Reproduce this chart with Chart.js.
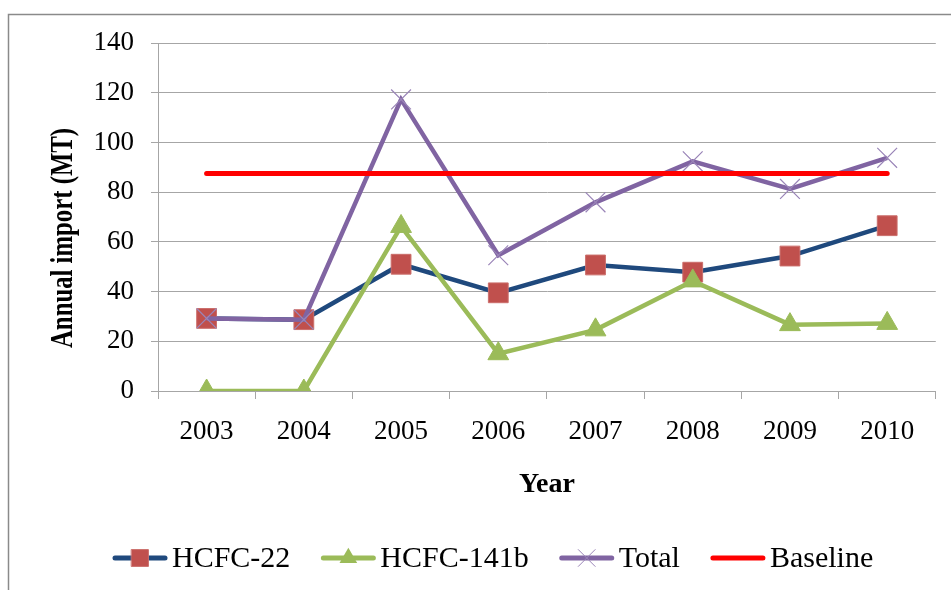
<!DOCTYPE html>
<html>
<head>
<meta charset="utf-8">
<script src="https://cdn.jsdelivr.net/npm/chart.js@4.4.1/dist/chart.umd.min.js"></script>
<style>
  html, body { margin: 0; padding: 0; background: #ffffff; }
  #wrap { width: 951px; height: 590px; position: relative; }
</style>
</head>
<body>
<div id="wrap"><canvas id="c" width="951" height="590"></canvas></div>
<script>
// Annual HCFC imports (metric tonnes)
const years = ['2003', '2004', '2005', '2006', '2007', '2008', '2009', '2010'];
const hcfc22 = [29.2, 28.7, 51.0, 39.5, 50.7, 47.8, 54.3, 66.5];
const hcfc141b = [0, 0, 66.2, 15.0, 24.6, 44.3, 26.7, 27.2];
const total = [29.2, 28.7, 117.3, 54.6, 75.9, 92.4, 81.3, 93.8];
const baseline = [87.5, 87.5, 87.5, 87.5, 87.5, 87.5, 87.5, 87.5];
const yTicks = [0, 20, 40, 60, 80, 100, 120, 140];
const yTitle = 'Annual import (MT)';

const SERIF = "'Liberation Serif', 'Times New Roman', serif";
const GRID = '#A6A6A6';

// white page with a thin frame on the top and left edges
const framePlugin = {
  id: 'frame',
  beforeDraw(chart) {
    const ctx = chart.ctx;
    ctx.save();
    ctx.fillStyle = '#ffffff';
    ctx.fillRect(0, 0, chart.width, chart.height);
    ctx.strokeStyle = '#8A8A8A';
    ctx.lineWidth = 1.5;
    ctx.beginPath();
    ctx.moveTo(8.5, chart.height);
    ctx.lineTo(8.5, 14.5);
    ctx.lineTo(chart.width, 14.5);
    ctx.stroke();
    ctx.restore();
  }
};

// vertical axis title in a tall, narrow bold face
const yTitlePlugin = {
  id: 'yTitle',
  afterDraw(chart) {
    const ctx = chart.ctx;
    ctx.save();
    ctx.font = 'bold 32px ' + SERIF;
    const w = ctx.measureText(yTitle).width;
    ctx.translate(72, 238);
    ctx.rotate(-Math.PI / 2);
    ctx.scale(220 / w, 1);
    ctx.fillStyle = '#000000';
    ctx.textAlign = 'center';
    ctx.textBaseline = 'alphabetic';
    ctx.fillText(yTitle, 0, 0);
    ctx.restore();
  }
};

function drawMarker(ctx, style, x, y, r, fill, stroke) {
  ctx.save();
  ctx.fillStyle = fill;
  ctx.strokeStyle = stroke;
  ctx.lineWidth = 1;
  ctx.beginPath();
  if (style === 'rect') {
    const s = Math.SQRT1_2 * r;
    ctx.rect(x - s, y - s, 2 * s, 2 * s);
    ctx.fill();
    ctx.stroke();
  } else if (style === 'triangle') {
    for (let i = 0; i < 3; i++) {
      const a = i * 2 * Math.PI / 3;
      const px = x + Math.sin(a) * r;
      const py = y - Math.cos(a) * r;
      if (i === 0) ctx.moveTo(px, py); else ctx.lineTo(px, py);
    }
    ctx.closePath();
    ctx.fill();
  } else if (style === 'crossRot') {
    const d = Math.SQRT1_2 * r;
    ctx.moveTo(x - d, y - d); ctx.lineTo(x + d, y + d);
    ctx.moveTo(x - d, y + d); ctx.lineTo(x + d, y - d);
    ctx.stroke();
  }
  ctx.restore();
}

// legend row: line sample with the series marker in its middle, then the name
const legendRow = {
  id: 'legendRow',
  afterDraw(chart) {
    const ctx = chart.ctx;
    const y = 558;
    const lineLen = 54;
    let x = 113;
    ctx.save();
    ctx.font = '30px ' + SERIF;
    ctx.textBaseline = 'middle';
    ctx.textAlign = 'left';
    chart.data.datasets.forEach(ds => {
      ctx.strokeStyle = ds.borderColor;
      ctx.lineWidth = 5;
      ctx.lineCap = 'round';
      ctx.beginPath();
      ctx.moveTo(x + 2, y);
      ctx.lineTo(x + lineLen - 2, y);
      ctx.stroke();
      if (ds.pointRadius > 0) {
        drawMarker(ctx, ds.pointStyle, x + lineLen / 2, y, ds.pointRadius * 0.85,
          ds.pointBackgroundColor, ds.pointBorderColor);
      }
      ctx.fillStyle = '#000000';
      ctx.fillText(ds.label, x + lineLen + 5, y + 1);
      x += lineLen + 5 + ctx.measureText(ds.label).width + 31;
    });
    ctx.restore();
  }
};

new Chart(document.getElementById('c'), {
  type: 'line',
  data: {
    labels: years,
    datasets: [
      {
        label: 'HCFC-22',
        data: hcfc22,
        borderColor: '#1F497D',
        borderWidth: 4.5,
        pointStyle: 'rect',
        pointRadius: 14,
        pointBackgroundColor: '#C0504D',
        pointBorderColor: '#CB6E6B',
        pointBorderWidth: 1,
        order: 3
      },
      {
        label: 'HCFC-141b',
        data: hcfc141b,
        borderColor: '#9BBB59',
        borderWidth: 4.5,
        pointStyle: 'triangle',
        pointRadius: 12,
        pointBackgroundColor: '#9BBB59',
        pointBorderColor: '#9BBB59',
        pointBorderWidth: 1,
        order: 2
      },
      {
        label: 'Total',
        data: total,
        borderColor: '#8064A2',
        borderWidth: 4.5,
        pointStyle: 'crossRot',
        pointRadius: 14,
        pointBackgroundColor: '#8064A2',
        pointBorderColor: '#9A85B8',
        pointBorderWidth: 1.2,
        order: 1
      },
      {
        label: 'Baseline',
        data: baseline,
        borderColor: '#FF0000',
        borderWidth: 5,
        borderCapStyle: 'round',
        pointRadius: 0,
        order: 0
      }
    ]
  },
  options: {
    responsive: false,
    devicePixelRatio: 1,
    animation: false,
    layout: { padding: { left: 30, right: 13, top: 43, bottom: 88 } },
    plugins: {
      legend: { display: false },
      tooltip: { enabled: false }
    },
    scales: {
      x: {
        type: 'category',
        offset: true,
        grid: { drawOnChartArea: false, drawTicks: true, tickLength: 8, color: GRID, offset: true },
        border: { display: true, color: GRID, width: 1 },
        ticks: { color: '#000000', padding: 17, maxRotation: 0, font: { family: SERIF, size: 27 } },
        title: { display: true, text: 'Year', color: '#000000', padding: { top: 0, bottom: 0 },
                 font: { family: SERIF, size: 28, weight: 'bold' } },
        afterFit(scale) { scale.height = 111; }
      },
      y: {
        min: 0,
        max: 140,
        afterBuildTicks(scale) { scale.ticks = yTicks.map(v => ({ value: v })); },
        grid: { color: GRID, lineWidth: 1, drawTicks: true, tickLength: 7 },
        border: { display: true, color: GRID, width: 1 },
        ticks: { color: '#000000', padding: 17, font: { family: SERIF, size: 27 } },
        title: { display: false },
        afterFit(scale) { scale.width = 128; }
      }
    }
  },
  plugins: [framePlugin, yTitlePlugin, legendRow]
});
</script>
</body>
</html>
